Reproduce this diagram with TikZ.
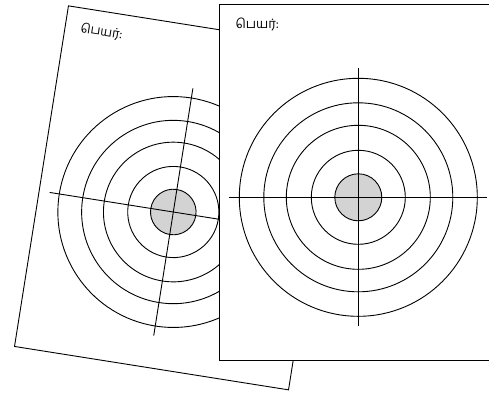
\documentclass[tikz,border=0pt]{standalone}
\usepackage{fontspec}
\newfontfamily\tamilfont[Script=Tamil]{Hind Madurai}
\definecolor{bullgrey}{HTML}{D3D3D3}
\tikzset{
  sheetline/.style={draw=black, line width=0.9pt},
  sheetpaper/.style={sheetline, fill=white},
  namelabel/.style={anchor=west, inner sep=0pt, font=\tamilfont\fontsize{13}{15}\selectfont},
}
\begin{document}
\begin{tikzpicture}[x=1pt,y=-1pt]
\useasboundingbox (0,0) rectangle (489,392);
\clip (0,0) rectangle (489,392);
% back sheet
\begin{scope}[shift={(173.3,212)}, rotate=-9, scale=0.97, transform shape]
  \draw[sheetpaper] (-140,-193) rectangle (146,162.5);
  \node[namelabel] (backname) at (-124,-172) {பெயர்:};
  \fill[bullgrey] (0,0) circle (23.5);
  \draw[sheetline] (0,0) circle (23.5);
  \foreach \r in {47,72,94.5,119} {\draw[sheetline] (0,0) circle (\r);}
  \draw[sheetline] (-129,0) -- (129,0);
  \draw[sheetline] (0,-129) -- (0,129);
\end{scope}
% front sheet
\begin{scope}[shift={(358.3,197.3)}]
  \draw[sheetpaper] (-138.6,-192.6) rectangle (148,162.7);
  \node[namelabel] (frontname) at (-123,-173) {பெயர்:};
  \fill[bullgrey] (0,0) circle (23.5);
  \draw[sheetline] (0,0) circle (23.5);
  \foreach \r in {47,72,94.5,119} {\draw[sheetline] (0,0) circle (\r);}
  \draw[sheetline] (-129,0) -- (129,0);
  \draw[sheetline] (0,-129) -- (0,129);
\end{scope}
\end{tikzpicture}
\end{document}
